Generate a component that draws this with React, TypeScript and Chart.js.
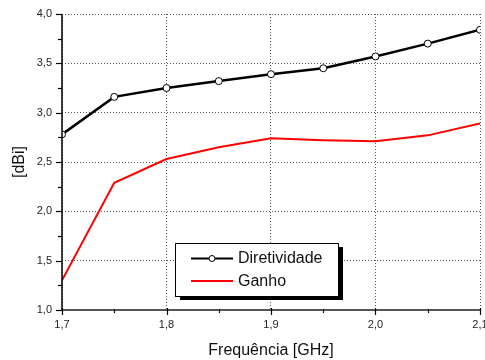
import React, { useEffect, useRef } from "react";
import { Chart, registerables } from "chart.js";

Chart.register(...registerables);

const freqs = [1.7, 1.75, 1.8, 1.85, 1.9, 1.95, 2.0, 2.05, 2.1];
const diretividade = [2.78, 3.16, 3.25, 3.32, 3.39, 3.45, 3.57, 3.70, 3.84];
const ganho = [1.30, 2.29, 2.53, 2.65, 2.74, 2.72, 2.71, 2.77, 2.89];
const seriesNames = ["Diretividade", "Ganho"];
const xTicks = [1.7, 1.8, 1.9, 2.0, 2.1];
const yTicks = [1.0, 1.5, 2.0, 2.5, 3.0, 3.5, 4.0];
const xTitle = "Frequência [GHz]";
const yTitle = "[dBi]";

const fmt = (v: number) => v.toFixed(1).replace(".", ",");
const FONT = "'Liberation Sans', Arial, sans-serif";

const isMajor = (v: number, step: number) =>
  Math.abs(v / step - Math.round(v / step)) < 1e-6;

const decorPlugin = {
  id: "decor",
  afterDraw(chart: any) {
    const ctx = chart.ctx;
    const xs = chart.scales.x;
    const ys = chart.scales.y;
    const area = chart.chartArea;
    ctx.save();
    // axis lines
    ctx.strokeStyle = "#555";
    ctx.lineWidth = 2;
    ctx.beginPath();
    ctx.moveTo(area.left, area.bottom);
    ctx.lineTo(area.right, area.bottom);
    ctx.stroke();
    ctx.strokeStyle = "#000";
    ctx.lineWidth = 1.5;
    ctx.beginPath();
    ctx.moveTo(area.left, area.top);
    ctx.lineTo(area.left, area.bottom);
    ctx.stroke();
    // tick marks
    ctx.strokeStyle = "#000";
    ctx.lineWidth = 1.2;
    for (let v = 1.0; v <= 4.0001; v += 0.25) {
      const y = Math.round(ys.getPixelForValue(v)) + 0.5;
      const len = isMajor(v, 0.5) ? 6 : 4;
      ctx.beginPath();
      ctx.moveTo(area.left - len, y);
      ctx.lineTo(area.left, y);
      ctx.stroke();
    }
    for (let v = 1.7; v <= 2.1001; v += 0.05) {
      const x = Math.round(xs.getPixelForValue(v)) + 0.5;
      const maj = isMajor(v, 0.1);
      ctx.beginPath();
      ctx.moveTo(x, area.bottom - (maj ? 2 : 1));
      ctx.lineTo(x, area.bottom + (maj ? 5 : 3));
      ctx.stroke();
    }
    // legend
    const lx = 175, ly = 243, lw = 163, lh = 53;
    ctx.fillStyle = "#000";
    ctx.fillRect(lx + 5, ly + 4, lw, lh);
    ctx.fillStyle = "#fff";
    ctx.fillRect(lx, ly, lw, lh);
    ctx.strokeStyle = "#000";
    ctx.lineWidth = 1;
    ctx.strokeRect(lx + 0.5, ly + 0.5, lw, lh);
    ctx.font = `16px ${FONT}`;
    ctx.textBaseline = "middle";
    ctx.textAlign = "left";
    const row1 = ly + 15.5, row2 = ly + 38;
    ctx.strokeStyle = "#000";
    ctx.lineWidth = 2;
    ctx.beginPath();
    ctx.moveTo(lx + 16, row1);
    ctx.lineTo(lx + 58, row1);
    ctx.stroke();
    ctx.beginPath();
    ctx.arc(lx + 37, row1, 3, 0, Math.PI * 2);
    ctx.fillStyle = "#fff";
    ctx.fill();
    ctx.lineWidth = 1;
    ctx.stroke();
    ctx.strokeStyle = "#ff0000";
    ctx.lineWidth = 2;
    ctx.beginPath();
    ctx.moveTo(lx + 16, row2);
    ctx.lineTo(lx + 58, row2);
    ctx.stroke();
    ctx.fillStyle = "#111";
    ctx.fillText(seriesNames[0], lx + 63, row1 + 0.5);
    ctx.fillText(seriesNames[1], lx + 63, row2 + 0.5);
    ctx.restore();
  },
};

export default function App() {
  const ref = useRef<HTMLCanvasElement>(null);
  useEffect(() => {
    if (!ref.current) return;
    const chart = new Chart(ref.current, {
      type: "line",
      data: {
        datasets: [
          {
            label: seriesNames[0],
            data: freqs.map((f, i) => ({ x: f, y: diretividade[i] })),
            borderColor: "#000",
            borderWidth: 2.5,
            pointRadius: 3.5,
            pointBackgroundColor: "#fff",
            pointBorderColor: "#000",
            pointBorderWidth: 1,
            tension: 0,
          },
          {
            label: seriesNames[1],
            data: freqs.map((f, i) => ({ x: f, y: ganho[i] })),
            borderColor: "#ff0000",
            borderWidth: 2,
            pointRadius: 0,
            tension: 0,
          },
        ],
      },
      options: {
        animation: false,
        responsive: false,
        maintainAspectRatio: false,
        layout: { padding: { top: 14, right: 4, left: 0, bottom: 0 } },
        plugins: {
          legend: { display: false },
          tooltip: { enabled: false },
        },
        scales: {
          x: {
            type: "linear",
            min: 1.7,
            max: 2.1,
            border: { display: false, dash: [1, 2] },
            afterBuildTicks: (s: any) => {
              s.ticks = xTicks.map((v) => ({ value: v }));
            },
            afterFit: (s: any) => {
              s.height = 50;
              s.paddingLeft = 0;
              s.paddingRight = 0;
            },
            grid: {
              color: "#555",
              lineWidth: 1,
              drawTicks: true,
              tickLength: 6,
              tickColor: "transparent",
            },
            ticks: {
              callback: (v: any) => fmt(Number(v)),
              font: { family: FONT, size: 11 },
              color: "#222",
              maxRotation: 0,
              autoSkip: false,
              padding: 2,
            },
            title: {
              display: true,
              text: xTitle,
              font: { family: FONT, size: 16 },
              color: "#111",
              padding: { top: 4, bottom: 0 },
            },
          },
          y: {
            min: 1.0,
            max: 4.0,
            border: { display: false, dash: [1, 2] },
            afterBuildTicks: (s: any) => {
              s.ticks = yTicks.map((v) => ({ value: v }));
            },
            afterFit: (s: any) => {
              s.width = 62;
              s.paddingTop = 0;
              s.paddingBottom = 0;
            },
            grid: {
              color: "#555",
              lineWidth: 1,
              tickLength: 6,
              tickColor: "transparent",
            },
            ticks: {
              callback: (v: any) => fmt(Number(v)),
              font: { family: FONT, size: 11 },
              color: "#222",
              padding: 4,
            },
            title: {
              display: true,
              text: yTitle,
              font: { family: FONT, size: 16 },
              color: "#111",
              padding: { top: 10, bottom: 4 },
            },
          },
        },
      },
      plugins: [decorPlugin],
    } as any);
    return () => chart.destroy();
  }, []);
  return (
    <div style={{ position: "absolute", left: 0, top: 0, width: 485, height: 360, background: "#fff" }}>
      <canvas ref={ref} width={485} height={360} style={{ width: 485, height: 360 }} />
    </div>
  );
}
